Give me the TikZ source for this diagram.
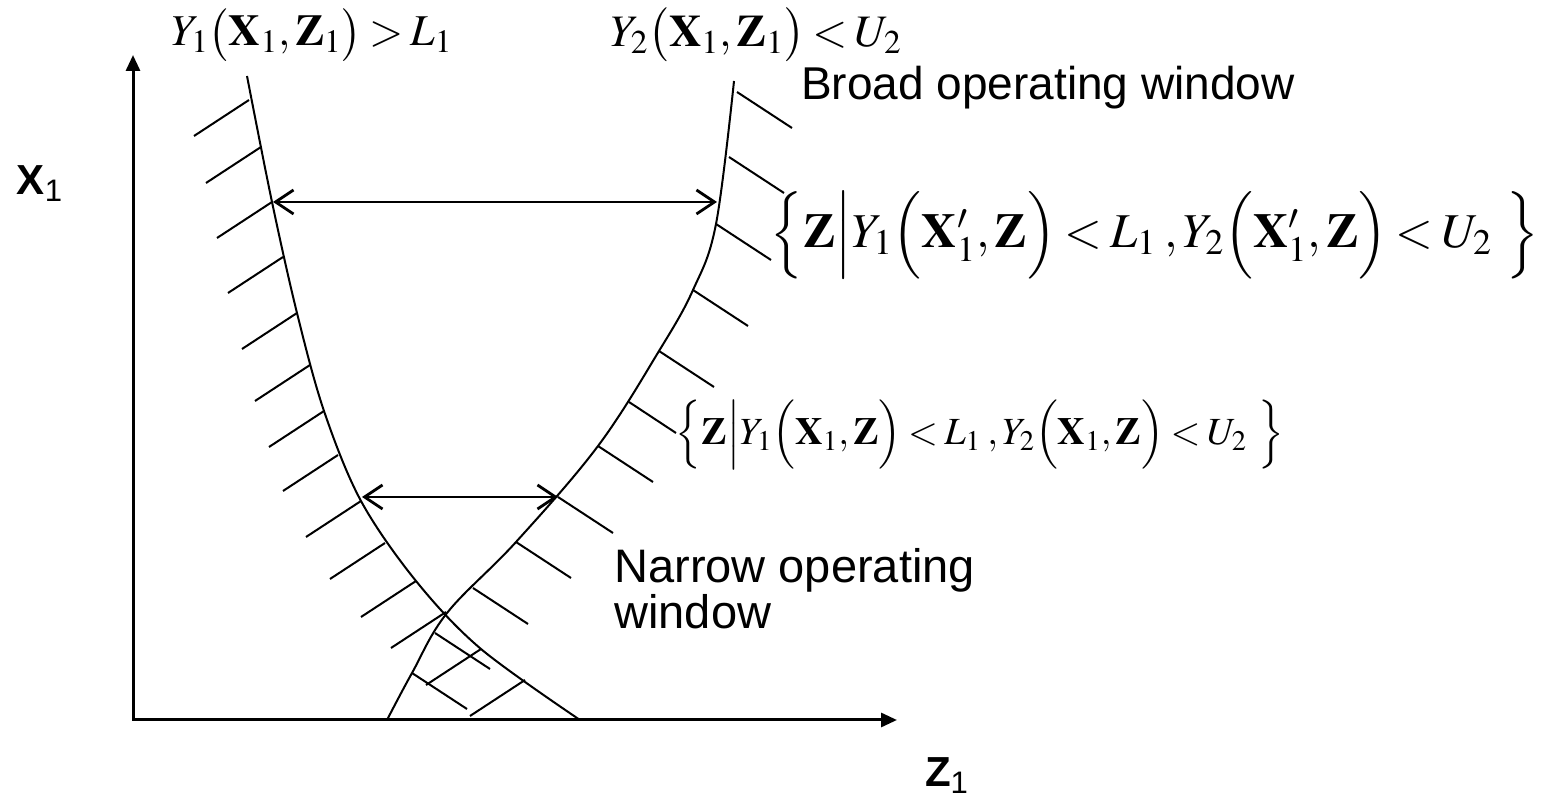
\documentclass[tikz,border=0pt]{standalone}
\usepackage{mathptmx}
\usepackage[no-math]{fontspec}
\newfontfamily\arialfont{Liberation Sans}
\usetikzlibrary{arrows.meta}

\begin{document}
\begin{tikzpicture}[x=0.5pt,y=-0.5pt,
  bound/.style={line width=1pt},
  hatch/.style={line width=1pt},
  axis/.style={line width=1.5pt},
  span/.style={line width=1.4pt,{Straight Barb[length=9pt,width=12pt]}-{Straight Barb[length=9pt,width=12pt]}},
  txt/.style={font=\arialfont\fontsize{23}{23}\selectfont,inner sep=0pt},
  axlab/.style={font=\arialfont\fontsize{21}{21}\selectfont,inner sep=0pt},
  formula/.style={inner sep=0pt,execute at begin node={\thickmuskip=3mu}}]
\useasboundingbox (0,0) rectangle (1543,801);
% axes
\coordinate (O) at (133,720);
\coordinate (ytop) at (133,55);
\coordinate (xend) at (897,720);
\draw[axis,{Triangle[length=8pt,width=7pt]}-{Triangle[length=8pt,width=7pt]}] (ytop) -- (O) -- (xend);
\node[axlab] (xlab) at (40,184) {\textbf{X}\textsubscript{1}};
\node[axlab] (zlab) at (947,776) {\textbf{Z}\textsubscript{1}};
% boundary of Y1 (left) and Y2 (right)
\draw[bound] plot[smooth,tension=0.55] coordinates {(247,76) (272,202) (297,313) (324,411) (361,501) (416,581) (481,649) (580,720)};
\draw[bound] plot[smooth,tension=0.6] coordinates {(734,81) (716,224) (693,290) (659,351) (598,446) (516,542) (447,613) (412,673) (387,720)};
\foreach \x/\y in {249/100,261/147,272/202,283/257,297/313,310/365,324/411,338/455,361/501,385/543,416/581,446/612,481/649,525/680}
  \draw[hatch] (\x,\y) -- ++(-55,36);
\foreach \x/\y in {737/92,729/157,716/224,693/290,659/351,598/446,558/497,516/542,473/588,435/633,412/673}
  \draw[hatch] (\x,\y) -- ++(55,36);
\draw[hatch] (629,402) -- ++(47,31);
% operating windows
\coordinate (bl) at (273,202);
\coordinate (br) at (717,202);
\coordinate (nl) at (362,497);
\coordinate (nr) at (558,497);
\draw[span] (bl) -- (br);
\draw[span] (nl) -- (nr);
% labels
\node[formula] (ylow) at (312,35) {\fontsize{22}{22}\selectfont$Y_1\bigl(\mathbf{X}_1,\mathbf{Z}_1\bigr)> L_1$};
\node[formula] (yup) at (756,35) {\fontsize{22.5}{22.5}\selectfont$Y_2\bigl(\mathbf{X}_1,\mathbf{Z}_1\bigr)< U_2$};
\node[txt] (broad) at (1048,88) {Broad operating window};
\node[formula] (setbroad) at (1155,235) {\fontsize{24.3}{24.3}\selectfont$\Bigl\{\mathbf{Z}\Big|Y_1\Bigl(\mathbf{X}_1',\mathbf{Z}\Bigr)<L_1\;,Y_2\Bigl(\mathbf{X}_1',\mathbf{Z}\Bigr)<U_2\ \Bigr\}$};
\node[formula] (setnarrow) at (980,435) {\fontsize{19.2}{19.2}\selectfont$\Bigl\{\mathbf{Z}\Big|Y_1\Bigl(\mathbf{X}_1,\mathbf{Z}\Bigr)<L_1\;,Y_2\Bigl(\mathbf{X}_1,\mathbf{Z}\Bigr)<U_2\ \Bigr\}$};
\node[txt,align=left,anchor=north west,font=\arialfont\fontsize{23.5}{20}\selectfont] (narrow) at (614,548) {Narrow operating\\window};
\end{tikzpicture}
\end{document}
